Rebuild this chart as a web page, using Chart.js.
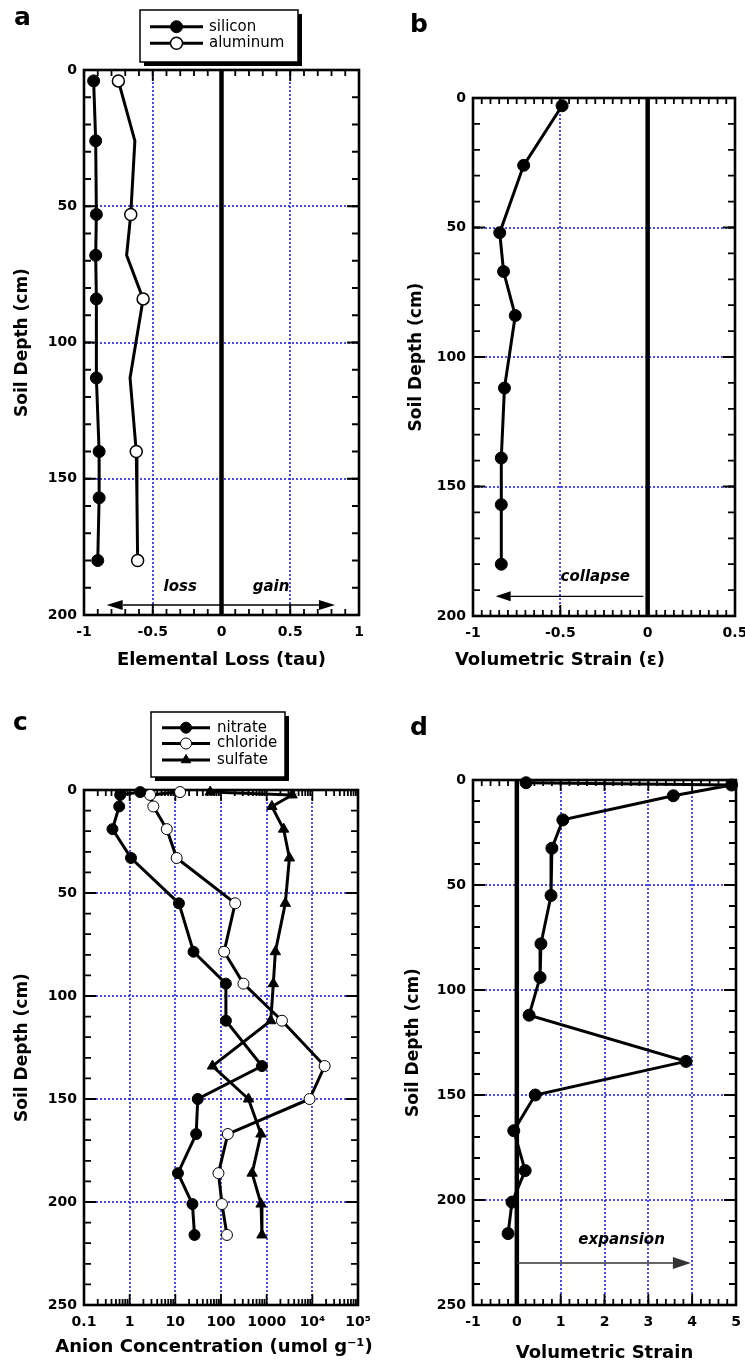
<!DOCTYPE html>
<html>
<head>
<meta charset="utf-8">
<script src="https://cdn.jsdelivr.net/npm/chart.js@4.4.1/dist/chart.umd.min.js"></script>
<style>
html,body{margin:0;padding:0;background:#fff;}
body{width:745px;height:1364px;position:relative;overflow:hidden;}
canvas{position:absolute;}
</style>
</head>
<body>
<canvas id="ca" width="372" height="680" style="left:0;top:0"></canvas>
<canvas id="cb" width="373" height="680" style="left:372px;top:0"></canvas>
<canvas id="cc" width="372" height="684" style="left:0;top:680px"></canvas>
<canvas id="cd" width="373" height="684" style="left:372px;top:680px"></canvas>
<script>
// ---------- data ----------
// Panel a: elemental loss (tau) vs soil depth
const depthA    = [4, 26, 53, 68, 84, 113, 140, 157, 180];
const silicon   = [-0.93, -0.915, -0.91, -0.915, -0.91, -0.91, -0.89, -0.89, -0.90];
const aluminum  = [-0.75, -0.63, -0.66, -0.69, -0.57, -0.665, -0.62, -0.615, -0.61];
const aluminumMarker = [true, false, true, false, true, false, true, false, true];
// Panel b: volumetric strain (collapse)
const depthB    = [3, 26, 52, 67, 84, 112, 139, 157, 180];
const strainB   = [-0.49, -0.71, -0.847, -0.825, -0.758, -0.82, -0.838, -0.838, -0.838];
// Panel c: anion concentrations (umol/g), log axis
const depthC    = [1, 2.4, 8, 19, 33, 55, 78.5, 94, 112, 134, 150, 167, 186, 201, 216];
const nitrate   = [1.7, 0.62, 0.59, 0.42, 1.07, 12, 25, 128, 128, 790, 31, 28.6, 11.4, 23.7, 26.3];
const chloride  = [12.7, 2.8, 3.3, 6.5, 10.7, 204, 117, 310, 2160, 18600, 8700, 141, 88, 105, 135];
const sulfate   = [58, 3590, 1300, 2350, 3150, 2560, 1550, 1400, 1230, 65, 400, 750, 480, 755, 788];
// Panel d: volumetric strain (expansion)
const depthD    = [1.3, 2.4, 7.5, 19, 32.5, 55, 78, 94, 112, 134, 150, 167, 186, 201, 216];
const strainD   = [0.21, 4.9, 3.57, 1.05, 0.8, 0.78, 0.55, 0.53, 0.28, 3.86, 0.42, -0.07, 0.19, -0.11, -0.2];

// tick values / labels
const depthTicks200 = [0, 50, 100, 150, 200];
const depthLabels200 = ['0', '50', '100', '150', '200'];
const depthTicks250 = [0, 50, 100, 150, 200, 250];
const depthLabels250 = ['0', '50', '100', '150', '200', '250'];
const xTicksA = [-1, -0.5, 0, 0.5, 1];
const xLabelsA = ['-1', '-0.5', '0', '0.5', '1'];
const xTicksB = [-1, -0.5, 0, 0.5];
const xLabelsB = ['-1', '-0.5', '0', '0.5'];
const xTicksC = [0.1, 1, 10, 100, 1000, 10000, 100000];
const xLabelsC = ['0.1', '1', '10', '100', '1000', '10\u2074', '10\u2075'];
const xTicksD = [-1, 0, 1, 2, 3, 4, 5];
const xLabelsD = ['-1', '0', '1', '2', '3', '4', '5'];

// ---------- styling ----------
const FONT = "'DejaVu Sans', 'Liberation Sans', Arial, sans-serif";
const tickFont = {family: FONT, size: 14, weight: 'bold'};
const xTitleFont = {family: FONT, size: 18, weight: 'bold'};
const yTitleFont = {family: FONT, size: 17, weight: 'bold'};
const GRID = 'rgba(30,30,225,0.8)';
const CLEAR = 'rgba(0,0,0,0)';

function range(a, b, n) { const out = []; for (let i = 0; i <= n; i++) out.push(a + (b - a) * i / n); return out; }
function logMinors(k0, k1) { const out = []; for (let k = k0; k < k1; k++) for (let m = 2; m <= 9; m++) out.push(m * Math.pow(10, k)); return out; }

function yScale(max, vals, labels, width, titlePad) {
  return {
    type: 'linear', reverse: true, min: 0, max: max,
    afterBuildTicks: s => { s.ticks = vals.map(v => ({value: v})); },
    ticks: {callback: (v, i) => labels[i], font: tickFont, color: '#000', padding: 7, autoSkip: false},
    grid: {color: c => (c.tick && c.tick.value > 0 && c.tick.value < max) ? GRID : CLEAR, lineWidth: 2, drawTicks: false},
    border: {display: false, dash: [2, 2]},
    title: {display: true, text: 'Soil Depth (cm)', font: yTitleFont, color: '#000', padding: {top: titlePad, bottom: 0}},
    afterFit: s => { s.width = width; }
  };
}
function xScale(type, min, max, vals, labels, height, title, titlePad, hideVals) {
  return {
    type: type, min: min, max: max,
    afterBuildTicks: s => { s.ticks = vals.map(v => ({value: v})); },
    ticks: {callback: (v, i) => labels[i], font: tickFont, color: '#000', padding: 9, autoSkip: false, maxRotation: 0, minRotation: 0},
    grid: {color: c => (c.tick && hideVals.indexOf(c.tick.value) < 0) ? GRID : CLEAR, lineWidth: 2, drawTicks: false},
    border: {display: false, dash: [2, 2]},
    title: {display: !!title, text: title || '', font: xTitleFont, color: '#000', padding: {top: 0, bottom: titlePad}},
    afterFit: s => { s.height = height; s.paddingLeft = 0; s.paddingRight = 0; }
  };
}

// decorations per canvas (axis frame ticks, zero line, arrows, notes, legend, panel letter)
const DECO = {
  ca: {
    zeroX: 0,
    xMinor: range(-1, 1, 20), xMajor: xTicksA,
    yMinor: range(0, 200, 20), yMajor: depthTicks200,
    letter: {text: 'a', x: 14, y: 25},
    arrows: [{from: 0, to: -0.835, y: 196.3, w: 1.5, color: '#000', hl: 16, hw: 5},
             {from: 0, to: 0.825, y: 196.3, w: 1.5, color: '#000', hl: 16, hw: 5}],
    notes: [{text: 'loss', x: -0.3, y: 189.7}, {text: 'gain', x: 0.36, y: 189.7}],
    legend: {x: 140, y: 10, w: 158, h: 52, l0: 150, l1: 203, tx: 209, rows: [26.7, 43.3], r: 6}
  },
  cb: {
    zeroX: 0,
    xMinor: range(-1, 0.5, 30), xMajor: xTicksB,
    yMinor: range(0, 200, 20), yMajor: depthTicks200,
    letter: {text: 'b', x: 38, y: 32},
    arrows: [{from: -0.025, to: -0.87, y: 192.4, w: 1.2, color: '#000', hl: 15, hw: 5}],
    notes: [{text: 'collapse', x: -0.3, y: 185}],
    xTitle: {text: 'Volumetric Strain (\u03b5)', x: 188, y: 660}
  },
  cc: {
    xMinor: logMinors(-1, 5), xMajor: xTicksC,
    yMinor: range(0, 250, 25), yMajor: depthTicks250,
    letter: {text: 'c', x: 13, y: 50},
    arrows: [], notes: [],
    legend: {x: 151, y: 32, w: 134, h: 65, l0: 162, l1: 210, tx: 217, rows: [47.7, 63.5, 80], r: 5.5},
    xTitle: {text: 'Anion Concentration (umol g\u207B\u00B9)', x: 214, y: 667}
  },
  cd: {
    zeroX: 0,
    xMinor: range(-1, 5, 30), xMajor: xTicksD,
    yMinor: range(0, 250, 25), yMajor: depthTicks250,
    letter: {text: 'd', x: 38, y: 55},
    arrows: [{from: 0, to: 3.97, y: 230, w: 1.6, color: '#333', hl: 18, hw: 6}],
    notes: [{text: 'expansion', x: 2.39, y: 219}]
  }
};

function drawMarker(ctx, style, x, y, r, fill, bw) {
  ctx.save();
  ctx.fillStyle = fill; ctx.strokeStyle = '#000'; ctx.lineWidth = bw;
  ctx.beginPath();
  if (style === 'triangle') {
    let rad = 0;
    ctx.moveTo(x + Math.sin(rad) * r, y - Math.cos(rad) * r);
    rad += 2 * Math.PI / 3; ctx.lineTo(x + Math.sin(rad) * r, y - Math.cos(rad) * r);
    rad += 2 * Math.PI / 3; ctx.lineTo(x + Math.sin(rad) * r, y - Math.cos(rad) * r);
    ctx.closePath();
  } else {
    ctx.arc(x, y, r, 0, Math.PI * 2);
  }
  ctx.fill(); ctx.stroke();
  ctx.restore();
}

const decoPlugin = {
  id: 'deco',
  beforeDatasetsDraw(chart) {
    const o = DECO[chart.canvas.id];
    const ctx = chart.ctx, a = chart.chartArea, xs = chart.scales.x, ys = chart.scales.y;
    ctx.save();
    ctx.strokeStyle = '#000';
    if (o.zeroX !== undefined) {
      const px = xs.getPixelForValue(o.zeroX);
      ctx.lineWidth = 4.5;
      ctx.beginPath(); ctx.moveTo(px, a.top); ctx.lineTo(px, a.bottom); ctx.stroke();
    }
    ctx.lineWidth = 1.8;
    const xt = (vals, len) => vals.forEach(v => {
      const p = xs.getPixelForValue(v);
      if (p <= a.left + 1 || p >= a.right - 1) return;
      ctx.beginPath();
      ctx.moveTo(p, a.bottom); ctx.lineTo(p, a.bottom - len);
      ctx.moveTo(p, a.top); ctx.lineTo(p, a.top + len);
      ctx.stroke();
    });
    const yt = (vals, len) => vals.forEach(v => {
      const p = ys.getPixelForValue(v);
      if (p <= a.top + 1 || p >= a.bottom - 1) return;
      ctx.beginPath();
      ctx.moveTo(a.left, p); ctx.lineTo(a.left + len, p);
      ctx.moveTo(a.right, p); ctx.lineTo(a.right - len, p);
      ctx.stroke();
    });
    xt(o.xMinor, 6); xt(o.xMajor, 11);
    yt(o.yMinor, 7); yt(o.yMajor, 12);
    ctx.lineWidth = 2.6;
    ctx.strokeRect(a.left, a.top, a.right - a.left, a.bottom - a.top);
    ctx.restore();
  },
  afterDatasetsDraw(chart) {
    const o = DECO[chart.canvas.id];
    const ctx = chart.ctx, xs = chart.scales.x, ys = chart.scales.y;
    ctx.save();
    // arrows
    o.arrows.forEach(ar => {
      const x0 = xs.getPixelForValue(ar.from), x1 = xs.getPixelForValue(ar.to), y = ys.getPixelForValue(ar.y);
      const dir = Math.sign(x1 - x0);
      ctx.strokeStyle = ar.color; ctx.fillStyle = ar.color; ctx.lineWidth = ar.w;
      ctx.beginPath(); ctx.moveTo(x0, y); ctx.lineTo(x1 - dir * ar.hl, y); ctx.stroke();
      ctx.beginPath(); ctx.moveTo(x1, y); ctx.lineTo(x1 - dir * ar.hl, y - ar.hw); ctx.lineTo(x1 - dir * ar.hl, y + ar.hw); ctx.closePath(); ctx.fill();
    });
    // notes
    ctx.fillStyle = '#000';
    ctx.font = 'italic bold 15px ' + FONT;
    ctx.textAlign = 'center'; ctx.textBaseline = 'middle';
    o.notes.forEach(n => ctx.fillText(n.text, xs.getPixelForValue(n.x), ys.getPixelForValue(n.y)));
    // x titles that sit off the plot centre / overhang the plot width
    if (o.xTitle) {
      ctx.font = 'bold 18px ' + FONT;
      ctx.fillText(o.xTitle.text, o.xTitle.x, o.xTitle.y);
    }
    // panel letter
    ctx.font = 'bold 25px ' + FONT;
    ctx.textAlign = 'left'; ctx.textBaseline = 'alphabetic';
    ctx.fillText(o.letter.text, o.letter.x, o.letter.y);
    // legend
    if (o.legend) {
      const L = o.legend;
      ctx.fillStyle = '#000'; ctx.fillRect(L.x + 4, L.y + 4, L.w, L.h);
      ctx.fillStyle = '#fff'; ctx.fillRect(L.x, L.y, L.w, L.h);
      ctx.strokeStyle = '#000'; ctx.lineWidth = 1.5; ctx.strokeRect(L.x, L.y, L.w, L.h);
      ctx.font = '15px ' + FONT; ctx.textBaseline = 'middle'; ctx.textAlign = 'left';
      chart.data.datasets.forEach((ds, i) => {
        const y = L.rows[i];
        ctx.strokeStyle = '#000'; ctx.lineWidth = 3;
        ctx.beginPath(); ctx.moveTo(L.l0, y); ctx.lineTo(L.l1, y); ctx.stroke();
        drawMarker(ctx, ds.pointStyle || 'circle', (L.l0 + L.l1) / 2, y, L.r, ds.pointBackgroundColor, ds.pointBorderWidth);
        ctx.fillStyle = '#000';
        ctx.fillText(ds.label, L.tx, y);
      });
    }
    ctx.restore();
  }
};

function series(label, xs, ys, opts) {
  return Object.assign({
    label: label,
    data: ys.map((d, i) => ({x: xs[i], y: d})),
    showLine: true, borderColor: '#000', borderWidth: 3,
    pointStyle: 'circle', pointRadius: 6, pointBackgroundColor: '#000', pointBorderColor: '#000', pointBorderWidth: 1,
    pointHoverRadius: 6, clip: false, tension: 0
  }, opts || {});
}

function makeChart(id, datasets, scales, pad) {
  return new Chart(document.getElementById(id), {
    type: 'scatter',
    data: {datasets: datasets},
    options: {
      responsive: false, animation: false, events: [],
      layout: {padding: pad, autoPadding: false},
      plugins: {legend: {display: false}, tooltip: {enabled: false}},
      scales: scales
    },
    plugins: [decoPlugin]
  });
}

makeChart('ca', [
  series('silicon', silicon, depthA),
  series('aluminum', aluminum, depthA, {pointRadius: aluminumMarker.map(m => m ? 6 : 0), pointBackgroundColor: '#fff', pointBorderWidth: 1.5})
], {
  x: xScale('linear', -1, 1, xTicksA, xLabelsA, 65, 'Elemental Loss (tau)', 9, [-1, 0, 1]),
  y: yScale(200, depthTicks200, depthLabels200, 84, 12)
}, {left: 0, right: 13, top: 70, bottom: 0});

makeChart('cb', [
  series('strain', strainB, depthB)
], {
  x: xScale('linear', -1, 0.5, xTicksB, xLabelsB, 64, '', 0, [-1, 0, 0.5]),
  y: yScale(200, depthTicks200, depthLabels200, 101, 34)
}, {left: 0, right: 10, top: 98, bottom: 0});

makeChart('cc', [
  series('nitrate', nitrate, depthC, {pointRadius: 5.5}),
  series('chloride', chloride, depthC, {pointRadius: 5.5, pointBackgroundColor: '#fff', pointBorderWidth: 1}),
  series('sulfate', sulfate, depthC, {pointRadius: 6, pointStyle: 'triangle'})
], {
  x: xScale('logarithmic', 0.1, 100000, xTicksC, xLabelsC, 59, '', 0, [0.1, 100000]),
  y: yScale(250, depthTicks250, depthLabels250, 84, 12)
}, {left: 0, right: 14, top: 110, bottom: 0});

makeChart('cd', [
  series('strain', strainD, depthD)
], {
  x: xScale('linear', -1, 5, xTicksD, xLabelsD, 59, 'Volumetric Strain', 0, [-1, 0, 5]),
  y: yScale(250, depthTicks250, depthLabels250, 101, 31)
}, {left: 0, right: 9, top: 100, bottom: 0});
</script>
</body>
</html>
